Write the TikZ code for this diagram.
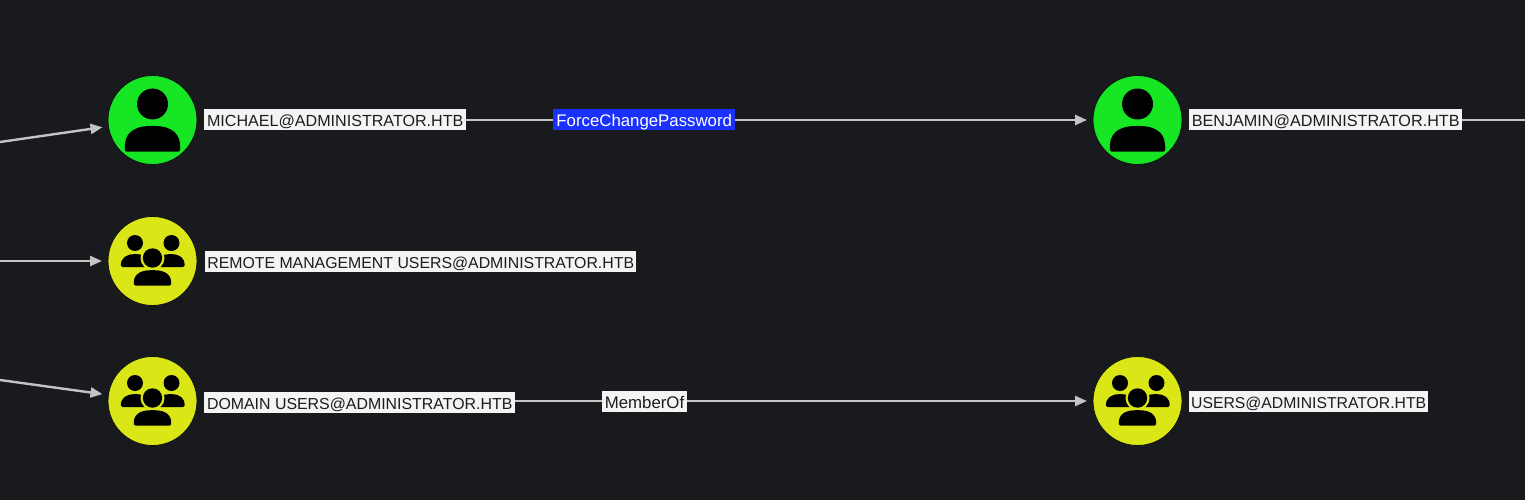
\documentclass[tikz,border=0pt]{standalone}
\usepackage{fontspec}
\setmainfont{Liberation Sans}
\usetikzlibrary{arrows.meta}
\definecolor{bgdark}{HTML}{191A1D}
\definecolor{usergreen}{HTML}{17E625}
\definecolor{groupyellow}{HTML}{DBE617}
\definecolor{edgegrey}{HTML}{C4C4C4}
\definecolor{labelwhite}{HTML}{F4F4F4}
\definecolor{labeltext}{HTML}{1C1C20}
\definecolor{edgeblue}{HTML}{1A30FF}
\tikzset{
  x=1pt,y=-1pt,
  vertex/.style={circle,minimum size=89pt,inner sep=0pt,outer sep=0pt,draw=black!40!bgdark,line width=0.8pt},
  usernode/.style={vertex,fill=usergreen},
  groupnode/.style={vertex,fill=groupyellow},
  namesize/.style={font=\fontsize{#1}{16}\selectfont},
  namebox/.style={fill=labelwhite,text=labeltext,inner sep=0pt,minimum height=21pt,text height=14pt,text depth=0pt,anchor=west,align=center},
  edgebox/.style={namebox,anchor=center},
  forcebox/.style={edgebox,fill=edgeblue,text=white},
  link/.style={draw=edgegrey,line width=2.4pt,-{Triangle[length=12pt,width=10pt]},shorten >=6pt},
  plainlink/.style={draw=edgegrey,line width=2.4pt},
  glyph/.style={fill=black,draw=none},
}
\newcommand{\personicon}[2]{%
  \fill[glyph] (#1,#2-16) circle[radius=15.5];
  \fill[glyph,rounded corners=1.5pt] (#1-27.5,#2+31.7)
     .. controls (#1-29,#2+14) and (#1-20,#2+6) .. (#1,#2+6)
     .. controls (#1+20,#2+6) and (#1+29,#2+14) .. (#1+27.5,#2+31.7) -- cycle;
}
\newcommand{\groupicon}[3]{%
  \fill[glyph] (#1-17.5,#2-18) circle[radius=8];
  \fill[glyph] (#1+19,#2-18) circle[radius=8];
  \fill[glyph,rounded corners=1.5pt] (#1-31.5,#2+6)
     .. controls (#1-32,#2-3) and (#1-26,#2-6.8) .. (#1-17,#2-6.8)
     .. controls (#1-8,#2-6.8) and (#1-3,#2-3) .. (#1-2,#2+6) -- cycle;
  \fill[glyph,rounded corners=1.5pt] (#1+3,#2+6)
     .. controls (#1+4,#2-3) and (#1+9,#2-6.8) .. (#1+18,#2-6.8)
     .. controls (#1+27,#2-6.8) and (#1+32.5,#2-3) .. (#1+32,#2+6) -- cycle;
  \fill[#3] (#1,#2-3) circle[radius=12];
  \fill[glyph] (#1,#2-3) circle[radius=9.7];
  \fill[glyph,rounded corners=1.5pt] (#1-18.5,#2+24.7)
     .. controls (#1-19.5,#2+14) and (#1-13,#2+9.2) .. (#1,#2+9.2)
     .. controls (#1+13,#2+9.2) and (#1+19.5,#2+14) .. (#1+18.5,#2+24.7) -- cycle;
}
\begin{document}
\begin{tikzpicture}
\fill[bgdark] (0,0) rectangle (1525,500);
\useasboundingbox (0,0) rectangle (1525,500);

\node[usernode] (michael) at (152.5,120) {};
\node[groupnode] (remote) at (152.5,261) {};
\node[groupnode] (domain) at (152.5,401) {};
\node[usernode] (benjamin) at (1137.5,120) {};
\node[groupnode] (users) at (1137.5,401) {};

\coordinate (inA) at (0,142);
\coordinate (inB) at (0,261);
\coordinate (inC) at (0,380);
\coordinate (outA) at (1525,120);

\draw[link] (inA) -- (michael);
\draw[link] (inB) -- (remote);
\draw[link] (inC) -- (domain);
\draw[link,shorten <=8pt] (michael) -- (benjamin);
\draw[link,shorten <=8pt] (domain) -- (users);
\draw[plainlink,shorten <=8pt] (benjamin) -- (outA);

\personicon{152.5}{120}
\personicon{1137.5}{120}
\groupicon{152.5}{261}{groupyellow}
\groupicon{152.5}{401}{groupyellow}
\groupicon{1137.5}{401}{groupyellow}

\node[namebox,namesize=16.1,minimum width=262pt] (lmichael) at (204,120) {MICHAEL@ADMINISTRATOR.HTB};
\node[namebox,namesize=15.85,minimum width=431pt] (lremote) at (205,261) {REMOTE MANAGEMENT USERS@ADMINISTRATOR.HTB};
\node[namebox,namesize=15.9,minimum width=311pt] (ldomain) at (204,402) {DOMAIN USERS@ADMINISTRATOR.HTB};
\node[namebox,namesize=16.2,minimum width=273pt] (lbenjamin) at (1189,120) {BENJAMIN@ADMINISTRATOR.HTB};
\node[namebox,namesize=15.75,minimum width=239pt] (lusers) at (1189,401.5) {USERS@ADMINISTRATOR.HTB};
\node[forcebox,namesize=16.8,minimum width=181.5pt] (lforce) at (644.2,120) {ForceChangePassword};
\node[edgebox,namesize=16.8,minimum width=85pt] (lmember) at (644.5,401.5) {MemberOf};
\end{tikzpicture}
\end{document}
